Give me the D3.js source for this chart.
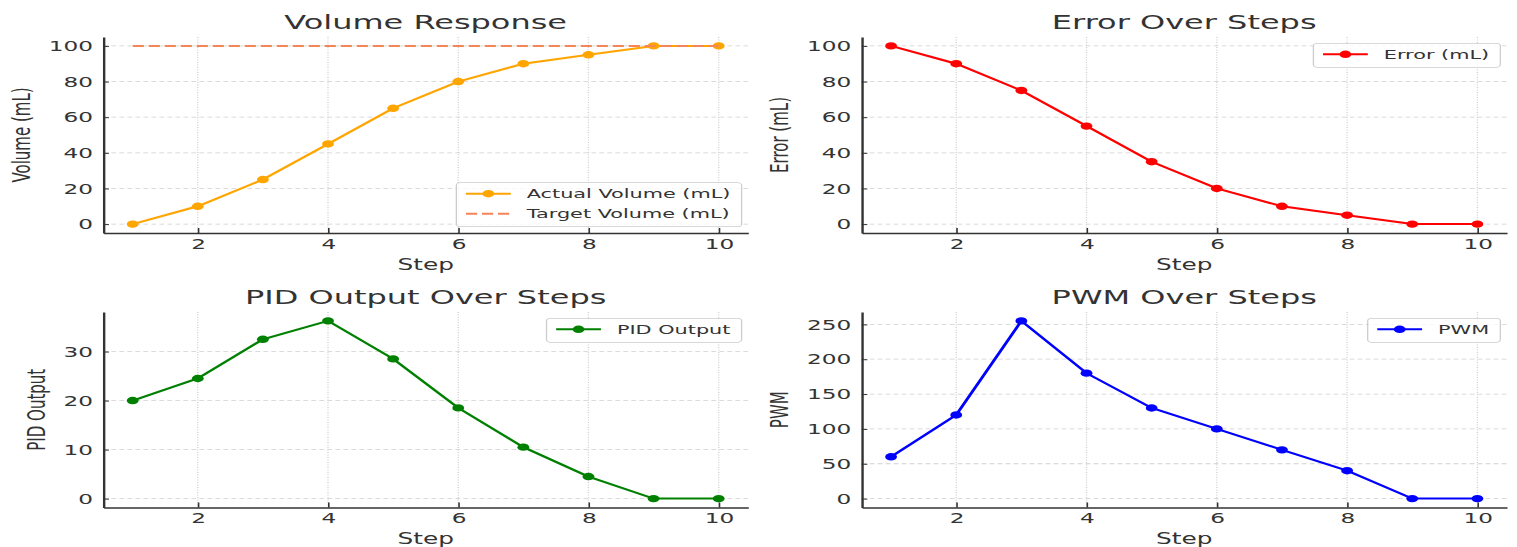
<!DOCTYPE html>
<html><head><meta charset="utf-8">
<script src="https://cdn.jsdelivr.net/npm/d3@7"></script>
<style>html,body{margin:0;padding:0;background:#fff;} svg{display:block;}</style>
</head><body>
<svg id="chart" width="1517" height="547"></svg>
<script>
// ---- data ----
const steps = [1, 2, 3, 4, 5, 6, 7, 8, 9, 10];
const actualVolume = [0, 10, 25, 45, 65, 80, 90, 95, 100, 100];
const targetVolume = [100, 100, 100, 100, 100, 100, 100, 100, 100, 100];
const errorValues = [100, 90, 75, 55, 35, 20, 10, 5, 0, 0];
const pidOutput = [20, 24.5, 32.5, 36.25, 28.5, 18.5, 10.5, 4.5, 0, 0];
const pwmValues = [60, 120, 255, 180, 130, 100, 70, 40, 0, 0];
const xTickValues = [2, 4, 6, 8, 10];
const volumeTicks = [0, 20, 40, 60, 80, 100];
const errorTicks = [0, 20, 40, 60, 80, 100];
const pidTicks = [0, 10, 20, 30];
const pwmTicks = [0, 50, 100, 150, 200, 250];

// ---- layout ----
const SX = 1.6;              // horizontal stretch of the reference picture
const FONT = "DejaVu Sans, Verdana, sans-serif";
const TEXT = "#333333";
const GRID = "#cfcfcf";

const svg = d3.select("#chart");
const root = svg.append("g").attr("transform", `scale(${SX},1)`);

const panels = [
  { title: "Volume Response", ylabel: "Volume (mL)", left: 64.6, right: 467.5, top: 37, bottom: 233,
    yTicks: volumeTicks, legend: "lower right",
    series: [
      { name: "Actual Volume (mL)", values: actualVolume, color: "#FFA500", marker: true },
      { name: "Target Volume (mL)", values: targetVolume, color: "#F5845A", dash: true }
    ] },
  { title: "Error Over Steps", ylabel: "Error (mL)", left: 538.6, right: 941.7, top: 37, bottom: 233,
    yTicks: errorTicks, legend: "upper right",
    series: [ { name: "Error (mL)", values: errorValues, color: "#FF0000", marker: true } ] },
  { title: "PID Output Over Steps", ylabel: "PID Output", left: 64.6, right: 467.5, top: 312, bottom: 507.5,
    yTicks: pidTicks, legend: "upper right",
    series: [ { name: "PID Output", values: pidOutput, color: "#008000", marker: true } ] },
  { title: "PWM Over Steps", ylabel: "PWM", left: 538.6, right: 941.7, top: 312, bottom: 507.5,
    yTicks: pwmTicks, legend: "upper right",
    series: [ { name: "PWM", values: pwmValues, color: "#0000FF", marker: true } ] }
];

panels.forEach(p => {
  const g = root.append("g");
  const xmin = d3.min(steps), xmax = d3.max(steps);
  const xm = (xmax - xmin) * 0.05;
  const x = d3.scaleLinear().domain([xmin - xm, xmax + xm]).range([p.left, p.right]);
  const all = p.series.flatMap(s => s.values);
  const ymin = d3.min(all), ymax = d3.max(all);
  const ym = (ymax - ymin) * 0.05;
  const y = d3.scaleLinear().domain([ymin - ym, ymax + ym]).range([p.bottom, p.top]);

  // grid
  g.append("g").selectAll("line").data(xTickValues).join("line")
    .attr("x1", d => x(d)).attr("x2", d => x(d))
    .attr("y1", p.top).attr("y2", p.bottom)
    .attr("stroke", GRID).attr("stroke-width", 0.8).attr("stroke-dasharray", "1,1.5");
  g.append("g").selectAll("line").data(p.yTicks).join("line")
    .attr("x1", p.left).attr("x2", p.right)
    .attr("y1", d => y(d)).attr("y2", d => y(d))
    .attr("stroke", GRID).attr("stroke-width", 0.8).attr("stroke-dasharray", "3,2");

  // series
  p.series.forEach(s => {
    const pts = steps.map((st, i) => ({ st, v: s.values[i] }));
    const line = d3.line().x(d => x(d.st)).y(d => y(d.v));
    g.append("path").datum(pts).attr("d", line)
      .attr("fill", "none").attr("stroke", s.color).attr("stroke-width", 2)
      .attr("stroke-dasharray", s.dash ? "7,3" : null);
    if (s.marker) {
      g.append("g").selectAll("circle").data(pts).join("circle")
        .attr("cx", d => x(d.st)).attr("cy", d => y(d.v)).attr("r", 3.7)
        .attr("fill", s.color);
    }
  });

  // axes
  const xAxis = d3.axisBottom(x).tickValues(xTickValues).tickSizeInner(-5).tickSizeOuter(0)
    .tickPadding(5.5).tickFormat(d3.format("d"));
  const yAxis = d3.axisLeft(y).tickValues(p.yTicks).tickSizeInner(-3.5).tickSizeOuter(0)
    .tickPadding(6.5).tickFormat(d3.format("d"));
  const gx = g.append("g").attr("transform", `translate(0,${p.bottom})`).call(xAxis);
  const gy = g.append("g").attr("transform", `translate(${p.left},0)`).call(yAxis);
  [gx, gy].forEach(a => {
    a.select(".domain").attr("stroke", TEXT).attr("stroke-width", 1.5);
    a.selectAll(".tick line").attr("stroke", TEXT).attr("stroke-width", 1);
    a.selectAll("text").attr("font-family", FONT).attr("font-size", 14.5).attr("fill", TEXT);
  });

  // title
  g.append("text").attr("x", (p.left + p.right) / 2).attr("y", p.top - 7.5)
    .attr("text-anchor", "middle").attr("font-family", FONT).attr("font-size", 20)
    .attr("fill", TEXT).text(p.title);
  // x label
  g.append("text").attr("x", (p.left + p.right) / 2).attr("y", p.bottom + 37)
    .attr("text-anchor", "middle").attr("font-family", FONT).attr("font-size", 15.5)
    .attr("fill", TEXT).text("Step");
  // y label
  let minX = Infinity;
  gy.selectAll(".tick text").each(function () {
    const b = this.getBBox();
    const parentT = this.parentNode.transform.baseVal.consolidate();
    const ox = parentT ? parentT.matrix.e : 0;
    minX = Math.min(minX, p.left + ox + b.x);
  });
  const xc = minX - 16.2, yc = (p.top + p.bottom) / 2;
  g.append("text").attr("transform", `translate(${xc},${yc}) rotate(-90)`)
    .attr("text-anchor", "middle").attr("dy", "0.3em").attr("font-family", FONT)
    .attr("font-size", 15).attr("fill", TEXT).text(p.ylabel);

  // legend
  const lg = g.append("g");
  const rowH = 20, n = p.series.length;
  const boxH = 24 + rowH * (n - 1);
  const texts = p.series.map((s, i) => lg.append("text").attr("font-family", FONT)
    .attr("font-size", 13).attr("fill", TEXT).text(s.name));
  const tw = d3.max(texts, t => t.node().getComputedTextLength());
  const boxW = 44 + tw + 7;
  const bx = p.right - 4 - boxW;
  const by = p.legend === "lower right" ? p.bottom - 6.3 - boxH : p.top + 6.3;
  lg.insert("rect", ":first-child").attr("x", bx).attr("y", by).attr("width", boxW).attr("height", boxH)
    .attr("rx", 2.5).attr("fill", "#fff").attr("fill-opacity", 0.8)
    .attr("stroke", "#cccccc").attr("stroke-width", 0.8);
  p.series.forEach((s, i) => {
    const cy = by + 11 + i * rowH;
    lg.append("line").attr("x1", bx + 6).attr("x2", bx + 34).attr("y1", cy).attr("y2", cy)
      .attr("stroke", s.color).attr("stroke-width", 2).attr("stroke-dasharray", s.dash ? "7,3" : null);
    if (s.marker) lg.append("circle").attr("cx", bx + 20).attr("cy", cy).attr("r", 3.7).attr("fill", s.color);
    texts[i].attr("x", bx + 44).attr("y", cy).attr("dy", "0.36em");
  });
});
</script>
</body></html>
